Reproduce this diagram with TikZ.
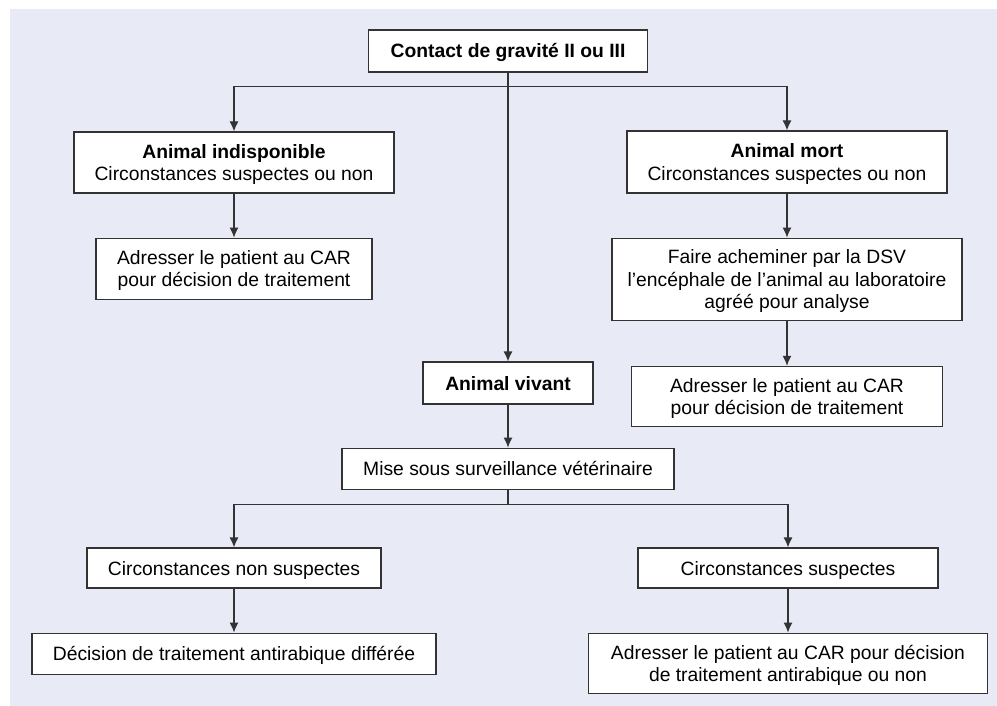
\documentclass[tikz,border=0pt]{standalone}
\usepackage{fontspec}
\setmainfont{Liberation Sans}
\usetikzlibrary{positioning,arrows.meta}
\definecolor{bgcolor}{HTML}{E8EAF5}
\definecolor{boxline}{HTML}{333333}

\begin{document}
\begin{tikzpicture}[x=1pt,y=1pt,
          arrowstyle/.style={->, line width=1.2pt, draw=boxline, >={Latex[length=10pt, width=9pt]}},
          linestyle/.style={line width=1.2pt, draw=boxline},
          oneline/.style={text height=14pt}]
          % A box style
          \tikzstyle{boxnode} = [draw=boxline, fill=white, line width=1.2pt, rectangle, align=center, inner sep=0pt, text depth=0pt, font=\fontsize{19.3}{22.5}\selectfont]

          % Background
          \useasboundingbox (0,0) rectangle (997,-706);
          \fill[bgcolor] (10,-9) rectangle (997,-706);

          % Top of the chart
          \node (contact) [boxnode, oneline, minimum width=279pt, minimum height=42pt] at (508,-51) {\textbf{Contact de gravité II ou III}};
          \coordinate (fork1) at ([yshift=-14pt]contact.south);

          % Left branch
          \node (indisp) [boxnode, minimum width=320pt, minimum height=61pt] at (234,-162.5) {\textbf{Animal indisponible}\\Circonstances suspectes ou non};
          \node (adrL)   [boxnode, below=44pt of indisp, minimum width=276pt, minimum height=61pt] {Adresser le patient au CAR\\pour décision de traitement};

          % Right branch
          \node (mort)  [boxnode, minimum width=320pt, minimum height=62pt] at (787,-162) {\textbf{Animal mort}\\Circonstances suspectes ou non};
          \node (faire) [boxnode, below=44pt of mort, minimum width=350pt, minimum height=82pt] {Faire acheminer par la DSV\\l’encéphale de l’animal au laboratoire\\agréé pour analyse};
          \node (adrR)  [boxnode, below=45pt of faire, minimum width=311pt, minimum height=60pt] {Adresser le patient au CAR\\pour décision de traitement};

          % Middle branch
          \node (vivant) [boxnode, oneline, minimum width=170pt, minimum height=42pt] at (508,-383) {\textbf{Animal vivant}};
          \node (mise)   [boxnode, oneline, below=43pt of vivant, minimum width=332pt, minimum height=41pt] {Mise sous surveillance vétérinaire};
          \coordinate (fork2) at ([yshift=-15pt]mise.south);

          % Bottom nodes
          \node (nonsusp)  [boxnode, oneline, minimum width=294pt, minimum height=40pt] at (234,-568) {Circonstances non suspectes};
          \node (decision) [boxnode, oneline, below=44pt of nonsusp, minimum width=404pt, minimum height=41pt] {Décision de traitement antirabique différée};
          \node (susp)     [boxnode, oneline, minimum width=300pt, minimum height=40pt] at (788,-568) {Circonstances suspectes};
          \node (adrBR)    [boxnode, below=44pt of susp, minimum width=399pt, minimum height=60pt] {Adresser le patient au CAR pour décision\\de traitement antirabique ou non};

          % Draw arrows
          \draw[arrowstyle] (contact) -- (vivant);
          \draw[arrowstyle] (fork1) -| (indisp);
          \draw[arrowstyle] (fork1) -| (mort);
          \draw[arrowstyle] (indisp) -- (adrL);
          \draw[arrowstyle] (mort) -- (faire);
          \draw[arrowstyle] (faire) -- (adrR);
          \draw[arrowstyle] (vivant) -- (mise);
          \draw[linestyle] (mise) -- (fork2);
          \draw[arrowstyle] (fork2) -| (nonsusp);
          \draw[arrowstyle] (fork2) -| (susp);
          \draw[arrowstyle] (nonsusp) -- (decision);
          \draw[arrowstyle] (susp) -- (adrBR);

          \end{tikzpicture}
\end{document}
